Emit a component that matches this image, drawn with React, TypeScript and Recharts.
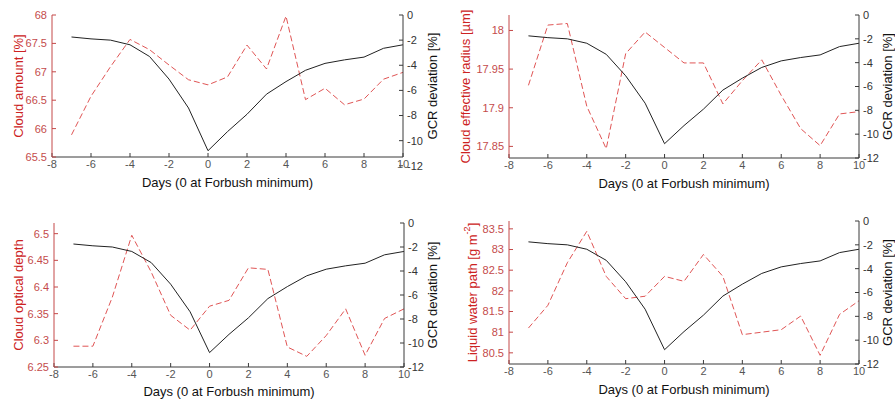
import React from "react"
import { LineChart, Line, XAxis, YAxis } from "recharts"

// days relative to the Forbush decrease minimum
const days = [-7, -6, -5, -4, -3, -2, -1, 0, 1, 2, 3, 4, 5, 6, 7, 8, 9, 10]

// composite GCR deviation [%], shared by all four panels
const gcrDeviation = [-1.75, -1.9, -2.0, -2.37, -3.3, -5.1, -7.4, -10.8, -9.28, -7.9, -6.3, -5.3, -4.4, -3.85, -3.57, -3.35, -2.65, -2.37]

const cloudAmount = [65.89, 66.57, 67.09, 67.57, 67.39, 67.12, 66.86, 66.77, 66.91, 67.47, 67.05, 67.98, 66.51, 66.71, 66.42, 66.52, 66.87, 66.99]
const cloudEffectiveRadius = [17.929, 18.007, 18.009, 17.902, 17.847, 17.97, 17.998, 17.978, 17.958, 17.958, 17.905, 17.935, 17.962, 17.916, 17.873, 17.851, 17.892, 17.895]
const cloudOpticalDepth = [6.289, 6.289, 6.381, 6.497, 6.428, 6.347, 6.319, 6.364, 6.375, 6.436, 6.433, 6.2875, 6.27, 6.309, 6.359, 6.272, 6.341, 6.359]
const liquidWaterPath = [81.1, 81.65, 82.68, 83.44, 82.35, 81.81, 81.87, 82.35, 82.23, 82.88, 82.35, 80.94, 81.0, 81.06, 81.39, 80.44, 81.43, 81.76]

const dayTicks = [-8, -6, -4, -2, 0, 2, 4, 6, 8, 10]
const gcrTicks = [-12, -10, -8, -6, -4, -2, 0]
const amountTicks = [65.5, 66, 66.5, 67, 67.5, 68]
const radiusTicks = [17.85, 17.9, 17.95, 18]
const depthTicks = [6.25, 6.3, 6.35, 6.4, 6.45, 6.5]
const waterTicks = [80.5, 81, 81.5, 82, 82.5, 83, 83.5]

const FONT = "'Liberation Sans', Arial, sans-serif"
const FRAME = "#3a3a3a"
const RED_AXIS = "#c44848"
const RED_TEXT = "#cc2222"
const RED_LINE = "#e05555"

const LEFT_W = 60
const RIGHT_W = 45
const PAD_TOP = 10
const BOTTOM_H = 40

type Box = { left: number; top: number; right: number; bottom: number }

type PanelProps = {
  plot: Box
  values: number[]
  domain: [number, number]
  ticks: number[]
  gcrDomain: [number, number]
  label: React.ReactNode
  leftLabelX: number
  rightLabelX: number
  xLabelY: number
}

function Panel({ plot, values, domain, ticks, gcrDomain, label, leftLabelX, rightLabelX, xLabelY }: PanelProps) {
  const plotW = plot.right - plot.left
  const plotH = plot.bottom - plot.top
  const ox = plot.left - LEFT_W
  const oy = plot.top - PAD_TOP
  const midX = LEFT_W + plotW / 2
  const midY = PAD_TOP + plotH / 2
  const data = days.map((day, i) => ({ day, value: values[i], gcr: gcrDeviation[i] }))

  const vertical = (x: number, text: React.ReactNode, fill: string) => () => (
    <text
      x={x}
      y={midY}
      transform={`rotate(-90 ${x} ${midY})`}
      textAnchor="middle"
      dominantBaseline="central"
      fontSize={13}
      fontFamily={FONT}
      fill={fill}
    >
      {text}
    </text>
  )

  return (
    <div style={{ position: "absolute", left: ox, top: oy }}>
      <LineChart
        width={plotW + LEFT_W + RIGHT_W}
        height={plotH + PAD_TOP + BOTTOM_H}
        data={data}
        margin={{ top: PAD_TOP, right: 0, bottom: 0, left: 0 }}
      >
        <XAxis
          xAxisId="top"
          orientation="top"
          type="number"
          dataKey="day"
          domain={[-8, 10]}
          ticks={dayTicks}
          interval={0}
          height={0}
          tick={false}
          tickSize={-4}
          stroke={FRAME}
          allowDataOverflow
        />
        <XAxis
          xAxisId="bottom"
          type="number"
          dataKey="day"
          domain={[-8, 10]}
          ticks={dayTicks}
          interval={0}
          height={BOTTOM_H}
          tickSize={-4}
          tickMargin={7}
          stroke={FRAME}
          tick={{ fill: "#555", fontSize: 11, fontFamily: FONT }}
          label={() => (
            <text
              x={midX}
              y={xLabelY - oy}
              textAnchor="middle"
              dominantBaseline="central"
              fontSize={13}
              fontFamily={FONT}
              fill="#111"
            >
              Days (0 at Forbush minimum)
            </text>
          )}
        />
        <YAxis
          yAxisId="left"
          type="number"
          domain={domain}
          ticks={ticks}
          interval={0}
          width={LEFT_W}
          tickSize={-4}
          tickMargin={9}
          stroke={RED_AXIS}
          tick={{ fill: "#c44b4b", fontSize: 11, fontFamily: FONT }}
          allowDataOverflow
          label={vertical(leftLabelX - ox, label, RED_TEXT)}
        />
        <YAxis
          yAxisId="right"
          orientation="right"
          type="number"
          domain={gcrDomain}
          ticks={gcrTicks}
          interval={0}
          width={RIGHT_W}
          tickSize={-4}
          tickMargin={8}
          stroke={FRAME}
          tick={{ fill: "#333", fontSize: 11, fontFamily: FONT }}
          allowDataOverflow
          label={vertical(rightLabelX - ox, "GCR deviation [%]", "#111")}
        />
        <Line
          xAxisId="bottom"
          yAxisId="left"
          dataKey="value"
          stroke={RED_LINE}
          strokeWidth={1}
          strokeDasharray="6 3"
          dot={false}
          isAnimationActive={false}
        />
        <Line
          xAxisId="bottom"
          yAxisId="right"
          dataKey="gcr"
          stroke="#222"
          strokeWidth={1}
          dot={false}
          isAnimationActive={false}
        />
      </LineChart>
    </div>
  )
}

export default function App() {
  return (
    <div
      style={{
        position: "absolute",
        left: 0,
        top: 0,
        width: 895,
        height: 403,
        overflow: "hidden",
        background: "#fff",
      }}
    >
      <Panel
        plot={{ left: 52, top: 15, right: 403, bottom: 157 }}
        values={cloudAmount}
        domain={[65.5, 68]}
        ticks={amountTicks}
        gcrDomain={[-11.3, 0]}
        label="Cloud amount [%]"
        leftLabelX={18}
        rightLabelX={432}
        xLabelY={182}
      />
      <Panel
        plot={{ left: 509, top: 15, right: 859, bottom: 158 }}
        values={cloudEffectiveRadius}
        domain={[17.835, 18.02]}
        ticks={radiusTicks}
        gcrDomain={[-12, 0]}
        label="Cloud effective radius [µm]"
        leftLabelX={465}
        rightLabelX={887}
        xLabelY={183}
      />
      <Panel
        plot={{ left: 54, top: 223, right: 404, bottom: 367 }}
        values={cloudOpticalDepth}
        domain={[6.25, 6.52]}
        ticks={depthTicks}
        gcrDomain={[-12, 0]}
        label="Cloud optical depth"
        leftLabelX={18}
        rightLabelX={432}
        xLabelY={391}
      />
      <Panel
        plot={{ left: 509, top: 221, right: 859, bottom: 364 }}
        values={liquidWaterPath}
        domain={[80.23, 83.69]}
        ticks={waterTicks}
        gcrDomain={[-12, 0]}
        label={
          <>
            Liquid water path [g m
            <tspan dy={-5} fontSize={9}>-2</tspan>
            <tspan dy={5}>]</tspan>
          </>
        }
        leftLabelX={472}
        rightLabelX={887}
        xLabelY={389}
      />
    </div>
  )
}
